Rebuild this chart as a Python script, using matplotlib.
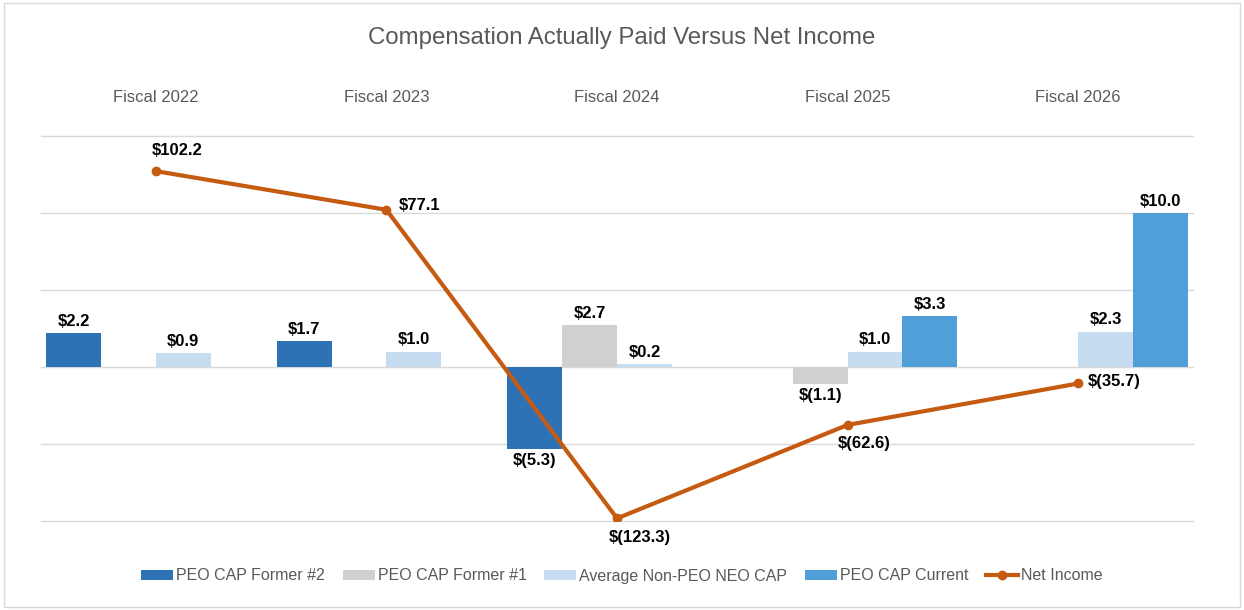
import numpy as np
import matplotlib
matplotlib.use("Agg")
import matplotlib.pyplot as plt
from matplotlib.patches import Rectangle
from matplotlib.lines import Line2D

plt.rcParams['font.family'] = ['Liberation Sans', 'DejaVu Sans']

categories = ["Fiscal 2022", "Fiscal 2023", "Fiscal 2024", "Fiscal 2025", "Fiscal 2026"]
peo_former2 = [2.2, 1.7, -5.3, np.nan, np.nan]
peo_former1 = [np.nan, np.nan, 2.7, -1.1, np.nan]
avg_non_peo = [0.9, 1.0, 0.2, 1.0, 2.3]
peo_current = [np.nan, np.nan, np.nan, 3.3, 10.0]
net_income = [102.2, 77.1, -123.3, -62.6, -35.7]

series = [
    ("PEO CAP Former #2", peo_former2, "#2E72B6"),
    ("PEO CAP Former #1", peo_former1, "#D0D0D0"),
    ("Average Non-PEO NEO CAP", avg_non_peo, "#C6DDF1"),
    ("PEO CAP Current", peo_current, "#509FD8"),
]
line_color = "#C55A11"
grey_text = "#595959"

def fmt(v):
    return f"$({abs(v):.1f})" if v < 0 else f"${v:.1f}"

fig = plt.figure(figsize=(12.44, 6.10), dpi=100)
ax = fig.add_axes([0.0326, 0.1459, 0.9268, 0.6311])
ax2 = ax.twinx()

x = np.arange(len(categories))
w = 0.238
offsets = [-1.5, -0.5, 0.5, 1.5]
for (name, vals, col), off in zip(series, offsets):
    vals = np.array(vals, dtype=float)
    ax.bar(x + off * w, vals, width=w, color=col, label=name, zorder=2)
    for xi, v in zip(x, vals):
        if np.isnan(v):
            continue
        if v >= 0:
            ax.annotate(fmt(v), (xi + off * w, v), xytext=(0, 3), textcoords="offset points",
                        ha="center", va="bottom", fontsize=12, fontweight="bold", color="black")
        else:
            ax.annotate(fmt(v), (xi + off * w, v), xytext=(0, -3), textcoords="offset points",
                        ha="center", va="top", fontsize=12, fontweight="bold", color="black")

ax.set_xlim(-0.5, len(categories) - 0.5)
ax.set_ylim(-10, 15)
ax.set_yticks([-10, -5, 0, 5, 10, 15])
ax.yaxis.grid(True, color="#D9D9D9", lw=1, zorder=0)
for gl in ax.get_ygridlines():
    gl.set_clip_on(False)
ax.set_axisbelow(True)
ax.set_xticks([])
ax.tick_params(left=False, labelleft=False)
for s in ax.spines.values():
    s.set_visible(False)

ax2.plot(x, net_income, color=line_color, lw=3, marker="o", markersize=6, zorder=5)
ax2.set_ylim(-125, 125)
ax2.set_yticks([])
for s in ax2.spines.values():
    s.set_visible(False)

ni_label_offsets = [(-3, 15), (8.5, 3), (-6, -14), (-7, -13.5), (7, 1.5)]
for xi, v, off in zip(x, net_income, ni_label_offsets):
    ax2.annotate(fmt(v), (xi, v), xytext=off, textcoords="offset points",
                 ha="left", va="center", fontsize=12, fontweight="bold", color="black")

for xi, c in zip(x, categories):
    ax.text(xi, 1.0 + (136 - 97) / 385, c, transform=ax.get_xaxis_transform(),
            ha="center", va="center", fontsize=12, color=grey_text)

fig.text(0.5, 1 - 38 / 610, "Compensation Actually Paid Versus Net Income",
         ha="center", va="center", fontsize=17.3, color=grey_text)

handles, labels = ax.get_legend_handles_labels()
handles.append(Line2D([0], [0], color=line_color, lw=3, marker="o", markersize=6))
labels.append("Net Income")
fig.legend(handles, labels, loc="center", bbox_to_anchor=(0.5, 1 - 576 / 610), ncol=5,
           frameon=False, fontsize=11.5, labelcolor=grey_text, handlelength=2.0,
           handleheight=0.6, handletextpad=0.2, columnspacing=1.1)

fig.add_artist(Rectangle((0.003, 0.005), 0.994, 0.99, transform=fig.transFigure,
                         fill=False, edgecolor="#D9D9D9", lw=1))

fig.savefig("out.png", dpi=100)
